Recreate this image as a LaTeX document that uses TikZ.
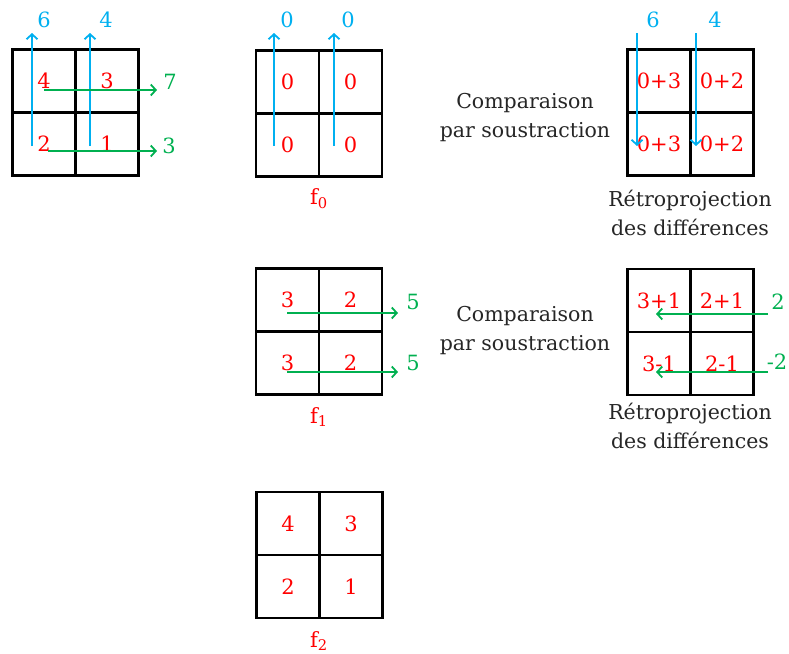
\documentclass[tikz,border=0pt]{standalone}
\usepackage{fontspec}
\setmainfont{DejaVu Serif}
\usetikzlibrary{arrows.meta}
\definecolor{cred}{HTML}{FF0000}
\definecolor{cblue}{HTML}{00B0F0}
\definecolor{cgreen}{HTML}{00B050}
\begin{document}
\begin{tikzpicture}[x=1pt,y=-1pt,
  cell/.style={draw=black,line width=2.6pt,minimum size=63pt,inner sep=0pt,text=cred,font=\fontsize{21}{24}\selectfont},
  blab/.style={text=cblue,font=\fontsize{21}{24}\selectfont,inner sep=0pt},
  glab/.style={text=cgreen,font=\fontsize{21}{24}\selectfont,inner sep=0pt},
  rlab/.style={text=cred,font=\fontsize{21}{24}\selectfont,inner sep=0pt},
  txt/.style={text=black!85,font=\fontsize{20.5}{29}\selectfont,align=center,inner sep=0pt},
  barr/.style={draw=cblue,line width=1.8pt,-{Straight Barb[length=5pt,width=11pt,line width=1.8pt]}},
  garr/.style={draw=cgreen,line width=1.8pt,-{Straight Barb[length=5pt,width=11pt,line width=1.8pt]}}]
\useasboundingbox (0,0) rectangle (789,653);
% ---------- grid A (original) ----------
\node[cell] (A11) at (44,81) {4};
\node[cell] (A12) at (107,81) {3};
\node[cell] (A21) at (44,144) {2};
\node[cell] (A22) at (107,144) {1};
\coordinate (Ab1s) at (32,146); \coordinate (Ab1e) at (32,33);
\coordinate (Ab2s) at (90,146); \coordinate (Ab2e) at (90,33);
\draw[barr] (Ab1s) -- (Ab1e);
\draw[barr] (Ab2s) -- (Ab2e);
\node[blab] (Al6) at (44,20) {6};
\node[blab] (Al4) at (106,20) {4};
\coordinate (Ag1s) at (44,90); \coordinate (Ag1e) at (157,90);
\coordinate (Ag2s) at (48,151); \coordinate (Ag2e) at (157,151);
\draw[garr] (Ag1s) -- (Ag1e);
\draw[garr] (Ag2s) -- (Ag2e);
\node[glab] (Al7) at (170,82) {7};
\node[glab] (Al3) at (169,146) {3};
% ---------- grid f0 ----------
\node[cell] (B11) at (287.5,82) {0};
\node[cell] (B12) at (350.5,82) {0};
\node[cell] (B21) at (287.5,145) {0};
\node[cell] (B22) at (350.5,145) {0};
\coordinate (Bb1s) at (274,146); \coordinate (Bb1e) at (274,33);
\coordinate (Bb2s) at (334,146); \coordinate (Bb2e) at (334,33);
\draw[barr] (Bb1s) -- (Bb1e);
\draw[barr] (Bb2s) -- (Bb2e);
\node[blab] (Bl1) at (287,20) {0};
\node[blab] (Bl2) at (348,20) {0};
\node[rlab] (f0) at (319,199) {f\textsubscript{0}};
% ---------- grid C (back projection 1) ----------
\node[cell] (C11) at (659,81) {0+3};
\node[cell] (C12) at (722,81) {0+2};
\node[cell] (C21) at (659,144) {0+3};
\node[cell] (C22) at (722,144) {0+2};
\coordinate (Cb1s) at (637,33); \coordinate (Cb1e) at (637,146);
\coordinate (Cb2s) at (696,33); \coordinate (Cb2e) at (696,146);
\draw[barr] (Cb1s) -- (Cb1e);
\draw[barr] (Cb2s) -- (Cb2e);
\node[blab] (Cl6) at (653,20) {6};
\node[blab] (Cl4) at (715,20) {4};
\node[txt] (comp1) at (525,118) {Comparaison\\par soustraction};
\node[txt] (retro1) at (690,213) {Rétroprojection\\des différences};
% ---------- grid f1 ----------
\node[cell] (D11) at (287.5,300) {3};
\node[cell] (D12) at (350.5,300) {2};
\node[cell] (D21) at (287.5,363) {3};
\node[cell] (D22) at (350.5,363) {2};
\coordinate (Dg1s) at (287,313); \coordinate (Dg1e) at (398,313);
\coordinate (Dg2s) at (287,372); \coordinate (Dg2e) at (398,372);
\draw[garr] (Dg1s) -- (Dg1e);
\draw[garr] (Dg2s) -- (Dg2e);
\node[glab] (Dl1) at (413,302) {5};
\node[glab] (Dl2) at (413,363) {5};
\node[rlab] (f1) at (319,417) {f\textsubscript{1}};
% ---------- grid E (back projection 2) ----------
\node[cell] (E11) at (659,300.5) {3+1};
\node[cell] (E12) at (722,300.5) {2+1};
\node[cell] (E21) at (659,363.5) {3-1};
\node[cell] (E22) at (722,363.5) {2-1};
\coordinate (Eg1s) at (768,314); \coordinate (Eg1e) at (656,314);
\coordinate (Eg2s) at (768,372); \coordinate (Eg2e) at (656,372);
\draw[garr] (Eg1s) -- (Eg1e);
\draw[garr] (Eg2s) -- (Eg2e);
\node[glab] (El1) at (778,302) {2};
\node[glab] (El2) at (777,362) {-2};
\node[txt] (comp2) at (525,331) {Comparaison\\par soustraction};
\node[txt] (retro2) at (690,426) {Rétroprojection\\des différences};
% ---------- grid f2 ----------
\node[cell] (F11) at (288,523.5) {4};
\node[cell] (F12) at (351,523.5) {3};
\node[cell] (F21) at (288,586.5) {2};
\node[cell] (F22) at (351,586.5) {1};
\node[rlab] (f2) at (319,641) {f\textsubscript{2}};
\end{tikzpicture}
\end{document}
